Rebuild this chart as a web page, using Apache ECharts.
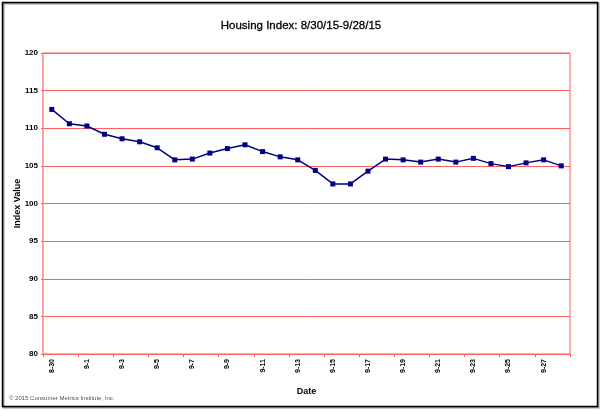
<!DOCTYPE html>
<html>
<head>
<meta charset="utf-8">
<script src="https://cdn.jsdelivr.net/npm/echarts@6/dist/echarts.min.js"></script>
<style>html,body{margin:0;padding:0;background:#fff}#c{width:602px;height:411px}</style>
</head>
<body>
<div id="c"></div>
<script>
const titleText = 'Housing Index: 8/30/15-9/28/15';
const categories = ['8-30','8-31','9-1','9-2','9-3','9-4','9-5','9-6','9-7','9-8','9-9','9-10','9-11','9-12','9-13','9-14','9-15','9-16','9-17','9-18','9-19','9-20','9-21','9-22','9-23','9-24','9-25','9-26','9-27','9-28'];
const indexValues = [112.5,110.6,110.3,109.2,108.6,108.2,107.4,105.8,105.9,106.7,107.3,107.8,106.9,106.2,105.8,104.4,102.6,102.6,104.3,105.9,105.8,105.5,105.9,105.5,106.0,105.3,104.9,105.4,105.8,105.0];
const yTicks = {min: 80, max: 120, interval: 5};

const chart = echarts.init(document.getElementById('c'), null, {renderer: 'canvas'});
const red = '#ff5f5f';
const lbl = {fontFamily: 'Liberation Sans, Arial, sans-serif', fontWeight: 'bold', color: '#000'};
chart.setOption({
  animation: false,
  backgroundColor: '#fff',
  title: {
    text: titleText, left: 'center', top: 15,
    textStyle: {fontFamily: 'Liberation Sans, Arial, sans-serif', fontSize: 11.5, fontWeight: 'normal', color: '#000', textBorderColor: '#000', textBorderWidth: 0.3}
  },
  grid: {left: 43, right: 32, top: 53, bottom: 57, show: true, borderColor: red, borderWidth: 1, containLabel: false, outerBoundsMode: 'none'},
  xAxis: {
    type: 'category', data: categories, boundaryGap: true,
    name: 'Date', nameLocation: 'middle', nameGap: 33, nameMoveOverlap: false,
    nameTextStyle: Object.assign({}, lbl, {fontSize: 9}),
    axisLine: {lineStyle: {color: red, width: 1}},
    axisTick: {show: true, interval: 1, length: 3, lineStyle: {color: red}},
    axisLabel: Object.assign({}, lbl, {interval: 1, rotate: 90, fontSize: 7, margin: 5})
  },
  yAxis: {
    type: 'value', min: yTicks.min, max: yTicks.max, interval: yTicks.interval,
    name: 'Index Value', nameLocation: 'middle', nameGap: 21, nameRotate: 90, nameMoveOverlap: false,
    nameTextStyle: Object.assign({}, lbl, {fontSize: 9}),
    axisLine: {show: true, lineStyle: {color: '#ffa0a0', width: 2}},
    axisTick: {show: true, length: 2, lineStyle: {color: red}},
    axisLabel: Object.assign({}, lbl, {fontSize: 8, margin: 5}),
    splitLine: {show: true, lineStyle: {color: red, width: 1}}
  },
  series: [{
    type: 'line', data: indexValues,
    symbol: 'rect', symbolSize: 5,
    lineStyle: {color: '#000080', width: 1.5},
    itemStyle: {color: '#000080'}
  }],
  graphic: [
    {type: 'rect', shape: {x: 3.5, y: 3.5, width: 595, height: 404}, style: {fill: 'none', stroke: '#999', lineWidth: 2}, z: 0, silent: true},
    {type: 'rect', shape: {x: 2.5, y: 2.5, width: 595, height: 404}, style: {fill: 'none', stroke: '#000', lineWidth: 1.5}, z: 1, silent: true},
    {type: 'text', left: 9, top: 395, style: {text: '\u00a9 2015 Consumer Metrics Institute, Inc.', fontSize: 6, fontFamily: 'Liberation Sans, Arial, sans-serif', fill: '#555'}}
  ]
});
</script>
</body>
</html>
